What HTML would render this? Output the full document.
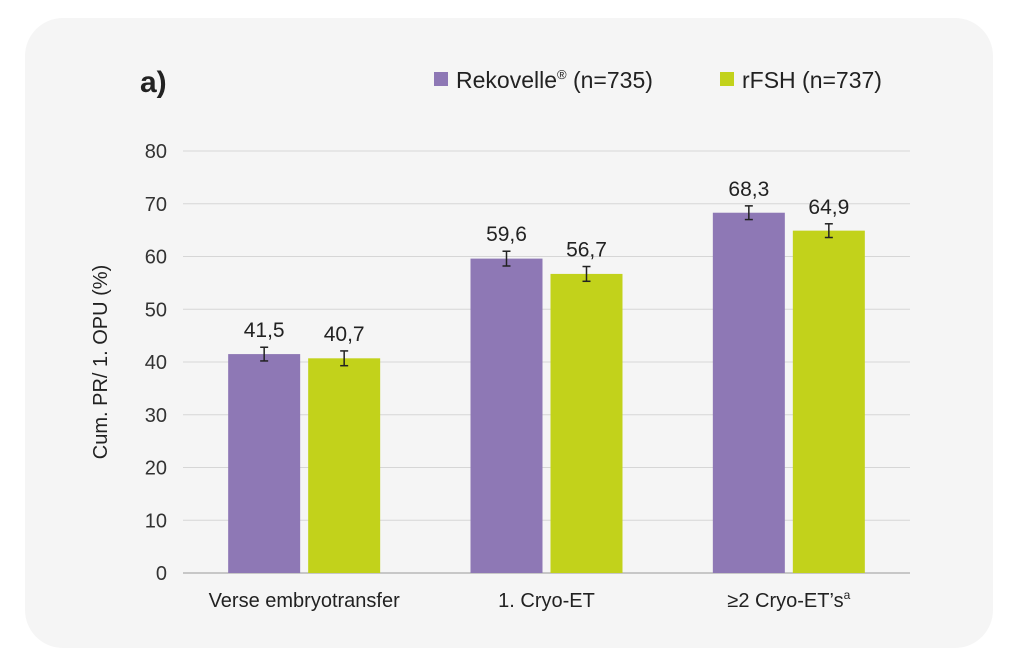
<!DOCTYPE html>
<html><head><meta charset="utf-8"><style>
body{margin:0;background:#fff;}
svg{display:block;font-family:"Liberation Sans",sans-serif;}
</style></head><body>
<svg width="1024" height="669" viewBox="0 0 1024 669">
<rect x="25" y="18" width="968" height="630" rx="38" fill="#f5f5f5"/>
<text x="140" y="92" font-size="30" font-weight="bold" fill="#222">a)</text>
<g>
<rect x="434" y="72" width="14" height="14" fill="#8e78b5"/>
<text x="456" y="88" font-size="23" fill="#222">Rekovelle<tspan font-size="13" dy="-9">®</tspan><tspan dy="9"> (n=735)</tspan></text>
<rect x="720" y="72" width="14" height="14" fill="#c2d21b"/>
<text x="742" y="88" font-size="23" fill="#222">rFSH (n=737)</text>
</g>
<text transform="translate(107,362) rotate(-90)" text-anchor="middle" font-size="20" fill="#222">Cum. PR/ 1. OPU (%)</text>
<g id="grid"></g><g id="bars"></g>
</svg>
<script>
const categories=["Verse embryotransfer","1. Cryo-ET","≥2 Cryo-ET’s"];
const rekovelle=[41.5,59.6,68.3];
const rfsh=[40.7,56.7,64.9];
const rekErr=[1.3,1.4,1.3];
const rfshErr=[1.4,1.4,1.3];
const yTicks=[0,10,20,30,40,50,60,70,80];
const NS="http://www.w3.org/2000/svg";
const x0=183,x1=910,yb=573,yt=151,ymax=80;
const y=v=>yb-(yb-yt)*v/ymax;
const band=(x1-x0)/categories.length;
function mk(t,a,p){const e=document.createElementNS(NS,t);for(const k in a)e.setAttribute(k,a[k]);p.appendChild(e);return e;}
const g=document.getElementById('grid'),b=document.getElementById('bars');
yTicks.forEach(v=>{
 const l=mk('line',{x1:x0,x2:x1,y1:y(v),y2:y(v),stroke:v===0?'#999':'#d6d6d6','stroke-width':1},g);
 
 
 const t=mk('text',{x:167,y:y(v)+7,'text-anchor':'end','font-size':20,fill:'#333'},g);t.textContent=v;
 
 
});
const bw=72,gap=8;
categories.forEach((c,i)=>{
 const cx=x0+band*(i+0.5);
 [[rekovelle,rekErr,'#8e78b5',-1,'rekovelle'],[rfsh,rfshErr,'#c2d21b',1,'rfsh']].forEach(([s,err,col,side,nm])=>{
  const v=s[i],bx=side<0?cx-gap/2-bw:cx+gap/2;
  const r=mk('rect',{x:bx,y:y(v),width:bw,height:yb-y(v),fill:col},b);
  
  
  const mx=bx+bw/2,e=err[i];
  const eg=mk('g',{stroke:'#222','stroke-width':1.5},b);
  
  
  mk('line',{x1:mx,x2:mx,y1:y(v+e),y2:y(v-e)},eg);
  mk('line',{x1:mx-4,x2:mx+4,y1:y(v+e),y2:y(v+e)},eg);
  mk('line',{x1:mx-4,x2:mx+4,y1:y(v-e),y2:y(v-e)},eg);
  const t=mk('text',{x:mx,y:y(v+e)-10,'text-anchor':'middle','font-size':21,fill:'#222'},b);
  t.textContent=String(v).replace('.',',');
  
  
 });
 const t=mk('text',{x:cx,y:607,'text-anchor':'middle','font-size':20,fill:'#222'},b);
 t.textContent=c;
 if(i===2){const s=mk('tspan',{'font-size':12,dy:-8},t);s.textContent='a';}
 
 
});
</script>
</body></html>
